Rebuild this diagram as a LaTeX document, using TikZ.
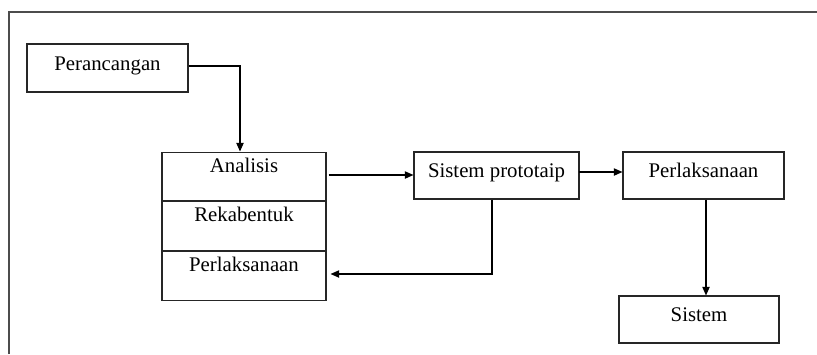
\documentclass[tikz,border=0pt]{standalone}
\usepackage{fontspec}
\setmainfont{Liberation Serif}
\usetikzlibrary{arrows.meta}
\begin{document}
\begin{tikzpicture}[x=0.75pt,y=-0.75pt,
  font=\fontsize{15.6}{18}\selectfont,
  box/.style={draw=black!85,line width=0.8pt,rectangle,inner sep=0pt,
    text height=10pt,text depth=7pt},
  cell/.style={draw=black!85,line width=0.8pt,rectangle,inner sep=0pt,
    minimum width=164*0.75pt,minimum height=48.7*0.75pt,
    text height=15pt,text depth=21.5pt},
  flow/.style={line width=0.9pt,-{Triangle[length=6.5pt,width=5.5pt]}},
  frameline/.style={draw=black!70,line width=1pt}]
\useasboundingbox (0,0) rectangle (817,354);

% page frame, open at the right and bottom
\draw[frameline] (9,354) -- (9,12) -- (817,12);

% boxes
\node[box,minimum width=161*0.75pt,minimum height=48*0.75pt] (plan) at (107.5,68) {Perancangan};
\node[cell] (ana) at (244,176.4) {Analisis};
\node[cell,anchor=north] (reka) at (ana.south) {Rekabentuk};
\node[cell,anchor=north] (perl) at (reka.south) {Perlaksanaan};
\node[box,minimum width=165*0.75pt,minimum height=47*0.75pt] (proto) at (496.5,175.5) {Sistem prototaip};
\node[box,minimum width=161*0.75pt,minimum height=47*0.75pt] (impl) at (703.5,175.5) {Perlaksanaan};
\node[box,minimum width=160*0.75pt,minimum height=47*0.75pt] (sys) at (699,319.5) {Sistem};

% connectors
\coordinate (bend) at (240,66);
\draw[flow] (plan.east |- bend) -- (bend) -- (bend |- ana.north);
\draw[flow] ([xshift=2*0.75pt]ana.east |- 0,175) -- (proto.west |- 0,175);
\draw[flow] ([xshift=-1*0.75pt]proto.east |- 0,172) -- (impl.west |- 0,172);
\draw[flow] (impl.south -| 706,0) -- (sys.north -| 706,0);
\coordinate (back) at (492,274);
\draw[flow] (proto.south -| back) -- (back) -- ([xshift=4*0.75pt]perl.east |- back);
\end{tikzpicture}
\end{document}
